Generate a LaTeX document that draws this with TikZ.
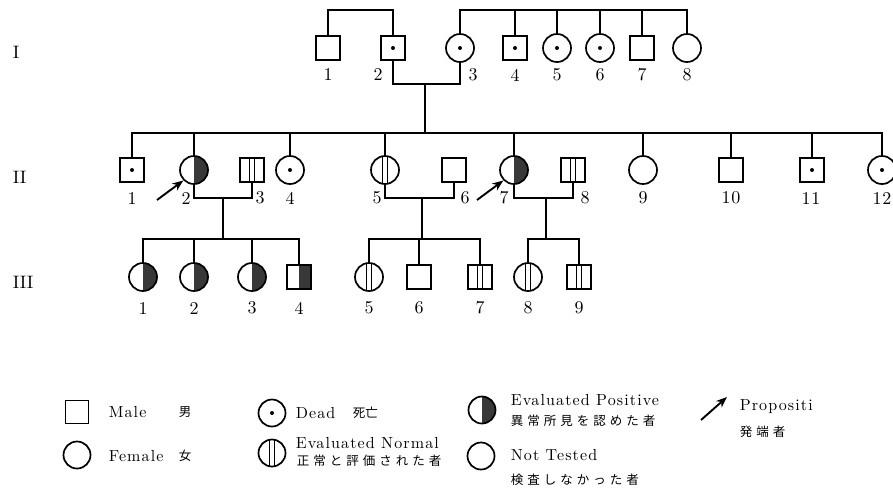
\documentclass[tikz,border=0pt]{standalone}
\usepackage{fontspec}
\setmainfont{lmroman10-regular}[Extension=.otf]
\newfontfamily\jp{Noto Sans CJK JP}
\newfontfamily\jpsp[LetterSpace=32]{Noto Sans CJK JP}
\usetikzlibrary{arrows.meta,calc}
\definecolor{pfill}{gray}{0.22}
\begin{document}
\begin{tikzpicture}[x=1pt,y=-1pt,line width=1.6pt,
  ind/.style={draw, inner sep=0pt, outer sep=0pt, line width=1.7pt},
  male/.style={ind, rectangle, minimum size=24pt},
  female/.style={ind, circle, minimum size=28pt},
  dead/.style={path picture={\fill (path picture bounding box.center) circle (2pt);}},
  norm/.style={path picture={\draw[line width=1.2pt]
     ([xshift=-2.2pt]path picture bounding box.north) -- ([xshift=-2.2pt]path picture bounding box.south)
     ([xshift=2.2pt]path picture bounding box.north) -- ([xshift=2.2pt]path picture bounding box.south);}},
  halfpos/.style={path picture={\fill[pfill] (path picture bounding box.north) rectangle (path picture bounding box.south east);}},
  num/.style={font=\fontsize{18}{20}\selectfont\addfontfeatures{LetterSpace=5}, inner sep=0pt},
  gen/.style={font=\fontsize{18}{20}\selectfont, inner sep=0pt, anchor=west},
  ltxt/.style={font=\fontsize{16}{18}\selectfont\addfontfeatures{LetterSpace=7}, inner sep=0pt, anchor=west},
  jtxt/.style={font=\fontsize{12.5}{14}\jpsp, inner sep=0pt, anchor=west},
  jone/.style={font=\fontsize{12.5}{14}\jp, inner sep=0pt, anchor=west},
  prob/.style={line width=1.9pt, -{Stealth[length=11pt,width=8.5pt]}},
]
\useasboundingbox (0,0) rectangle (893,491);
% generation labels
\node[gen] (gI) at (12,52) {I};
\node[gen] (gII) at (12,177) {II};
\node[gen] (gIII) at (12,282) {III};
% generation I
\node[male] (I1) at (328,48) {};
\node[male,dead] (I2) at (393,48) {};
\node[female,dead] (I3) at (460,48) {};
\node[male,dead] (I4) at (515,48) {};
\node[female,dead] (I5) at (557,48) {};
\node[female,dead] (I6) at (600,48) {};
\node[male] (I7) at (642,48) {};
\node[female] (I8) at (687,48) {};
\foreach \n/\x in {1/328,2/378,3/473,4/515,5/557,6/600,7/642,8/687}
  \node[num] (lI\n) at (\x,75) {\n};
\coordinate (sI) at (0,10);
\coordinate (mI) at (425,84);
\draw (I1.north) -- (I1.north|-sI) -- (I2.north|-sI) -- (I2.north);
\draw (I3.north) -- (I3.north|-sI) -- (I8.north|-sI) -- (I8.north);
\foreach \n in {4,5,6,7} \draw (I\n.north) -- (I\n.north|-sI);
\draw (I2.south) |- (mI) -| (I3.south);
% generation II
\node[male,dead] (II1) at (132,170) {};
\node[female,halfpos] (II2) at (194,170) {};
\node[male,norm] (II3) at (252,170) {};
\node[female,dead] (II4) at (290,170) {};
\node[female,norm] (II5) at (385,170) {};
\node[male] (II6) at (454,170) {};
\node[female,halfpos] (II7) at (514,170) {};
\node[male,norm] (II8) at (573,170) {};
\node[female] (II9) at (643,170) {};
\node[male] (II10) at (731,170) {};
\node[male,dead] (II11) at (812,170) {};
\node[female,dead] (II12) at (882,170) {};
\foreach \n/\x in {1/132,2/186,3/260,4/290,5/377,6/465,7/504,8/585,9/643,10/731,11/811,12/882}
  \node[num] (lII\n) at (\x,198) {\n};
\coordinate (sII) at (0,133);
\draw (mI) -- (mI|-sII);
\draw (II1.north) -- (II1.north|-sII) -- (II12.north|-sII) -- (II12.north);
\foreach \n in {2,4,5,7,9,10,11} \draw (II\n.north) -- (II\n.north|-sII);
\coordinate (mII2) at (223,198);
\coordinate (mII5) at (422,198);
\coordinate (mII7) at (546,198);
\draw (II2.south) |- (mII2) -| (II3.south);
\draw (II5.south) |- (mII5) -| (II6.south);
\draw (II7.south) |- (mII7) -| (II8.south);
\coordinate (pa2) at (157,200);
\coordinate (pa7) at (477,200);
\draw[prob, shorten >=1pt] (pa2) -- (II2.south west);
\draw[prob, shorten >=1pt] (pa7) -- (II7.south west);
% generation III
\node[female,halfpos] (III1) at (143,277) {};
\node[female,halfpos] (III2) at (194,277) {};
\node[female,halfpos] (III3) at (252,277) {};
\node[male,halfpos] (III4) at (299,277) {};
\node[female,norm] (III5) at (369,277) {};
\node[male] (III6) at (419,277) {};
\node[male,norm] (III7) at (480,277) {};
\node[female,norm] (III8) at (528,277) {};
\node[male,norm] (III9) at (579,277) {};
\foreach \n/\x in {1/143,2/194,3/252,4/299,5/369,6/419,7/480,8/528,9/579}
  \node[num] (lIII\n) at (\x,308) {\n};
\coordinate (sIII) at (0,239);
\draw (mII2) -- (mII2|-sIII);
\draw (mII5) -- (mII5|-sIII);
\draw (mII7) -- (mII7|-sIII);
\draw (III1.north) -- (III1.north|-sIII) -- (III4.north|-sIII) -- (III4.north);
\foreach \n in {2,3} \draw (III\n.north) -- (III\n.north|-sIII);
\draw (III5.north) -- (III5.north|-sIII) -- (III7.north|-sIII) -- (III7.north);
\draw (III6.north) -- (III6.north|-sIII);
\draw (III8.north) -- (III8.north|-sIII) -- (III9.north|-sIII) -- (III9.north);
% legend
\node[male, minimum size=23pt] (Lm) at (77,412) {};
\node[ltxt] (tLm) at (108,412) {Male};
\node[jone] (jLm) at (178,412) {男};
\node[female, minimum size=27pt] (Lf) at (77,455) {};
\node[ltxt] (tLf) at (108,456) {Female};
\node[jone] (jLf) at (178,456) {女};
\node[female, dead, minimum size=27pt] (Ld) at (272,413) {};
\node[ltxt] (tLd) at (295,413) {Dead};
\node[jone] (jLd) at (352,413) {死亡};
\node[female, norm, minimum size=27pt] (Ln) at (272,453) {};
\node[ltxt] (tLn) at (295,443) {Evaluated Normal};
\node[jtxt] (jLn) at (296,461) {正常と評価された者};
\node[female, halfpos, minimum size=27pt] (Lp) at (482,410) {};
\node[ltxt] (tLp) at (510,400) {Evaluated Positive};
\node[jtxt] (jLp) at (510,421) {異常所見を認めた者};
\node[female, minimum size=27pt] (Lnt) at (481,456) {};
\node[ltxt] (tLnt) at (510,455) {Not Tested};
\node[jtxt] (jLnt) at (510,480) {検査しなかった者};
\coordinate (La0) at (701,420);
\coordinate (La1) at (727,397);
\draw[prob] (La0) -- (La1);
\node[ltxt] (tLa) at (739,407) {Propositi};
\node[jtxt] (jLa) at (739,432) {発端者};
\end{tikzpicture}
\end{document}
